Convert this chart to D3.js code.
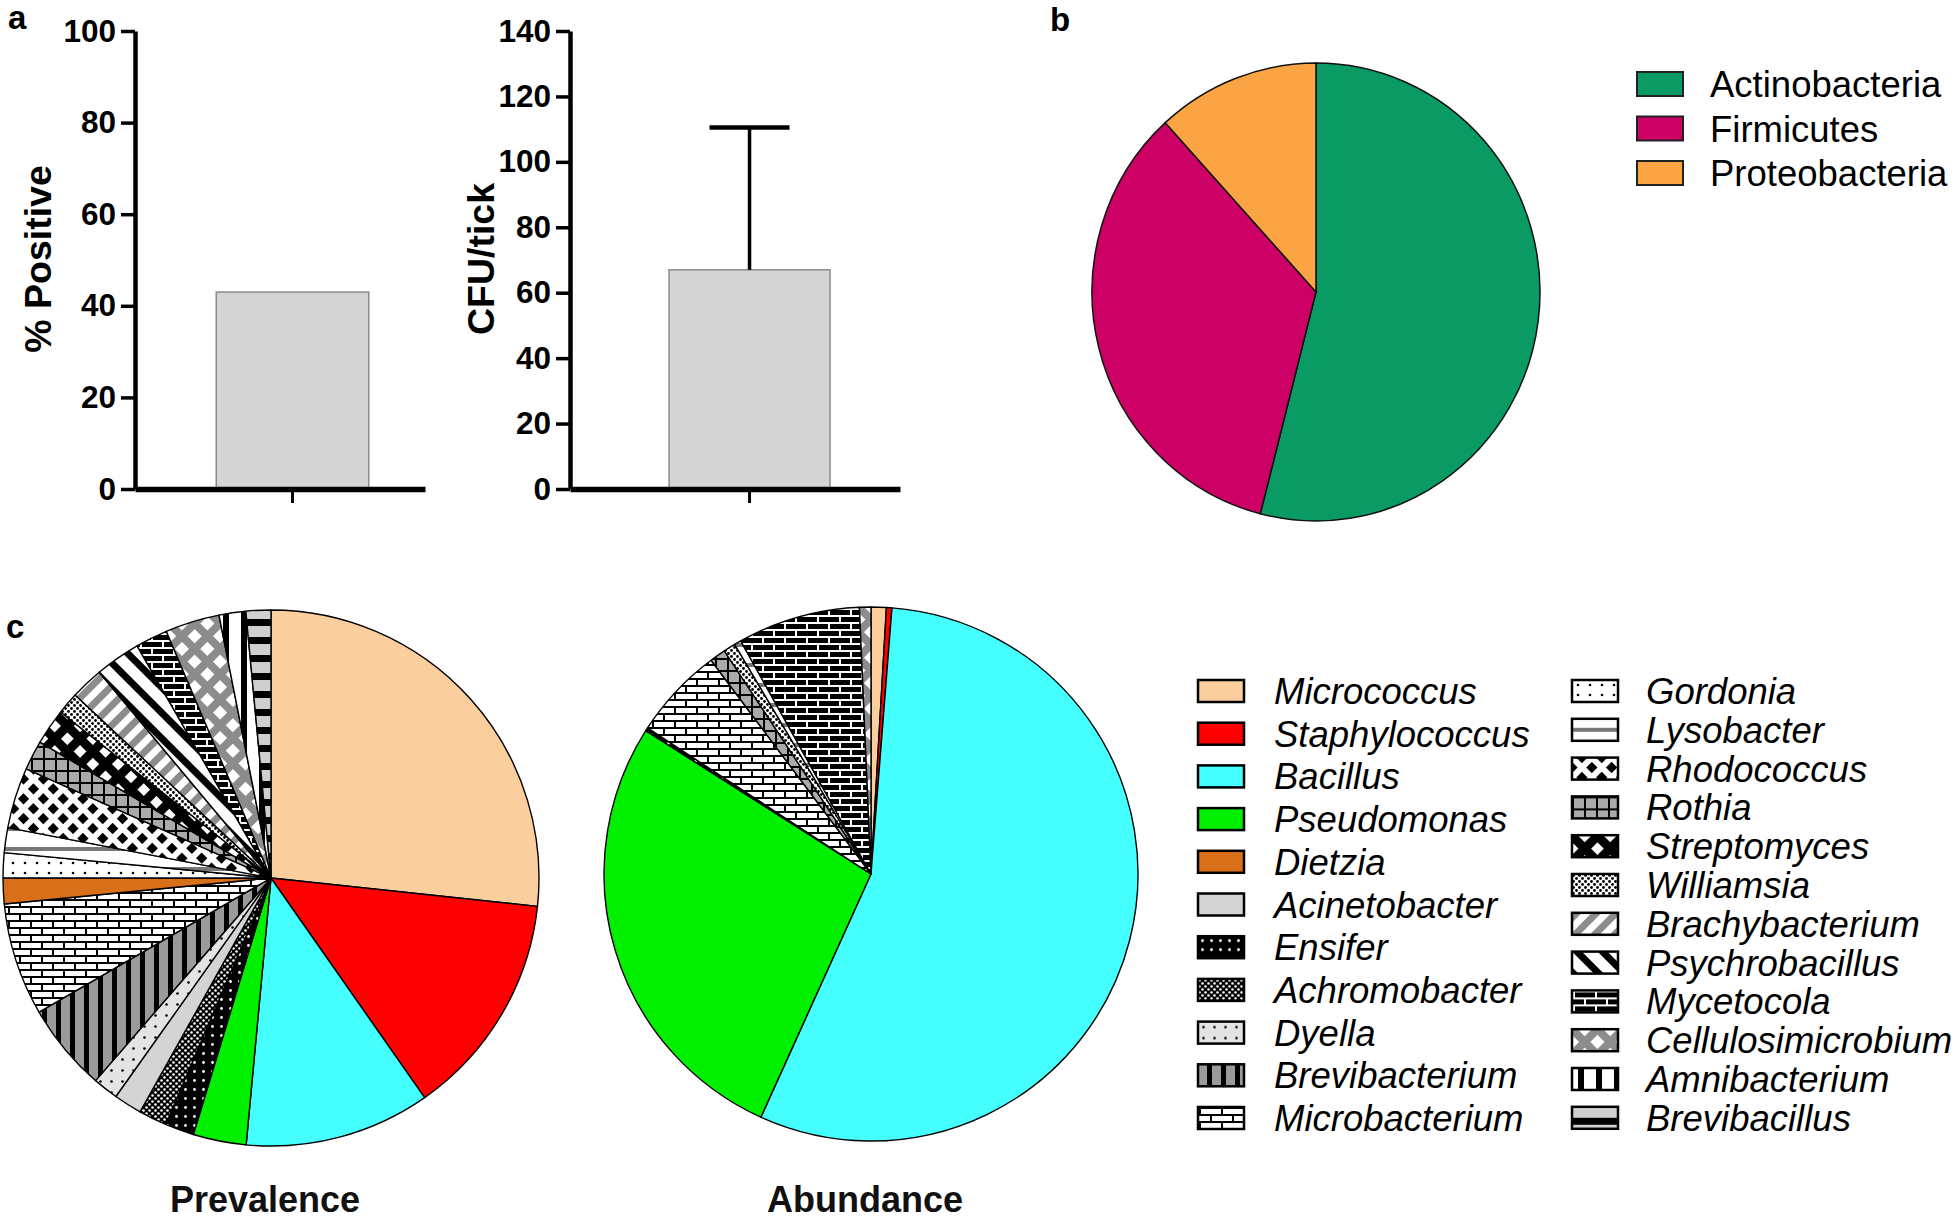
<!DOCTYPE html>
<html>
<head>
<meta charset="utf-8">
<script src="https://cdn.jsdelivr.net/npm/d3@7"></script>
<style>
body { margin: 0; background: #fff; }
svg { display: block; }
text { font-family: "Liberation Sans", Arial, sans-serif; }
</style>
</head>
<body>
<svg width="1960" height="1220"></svg>
<script>
// panel a: share of positive ticks and CFU per tick (mean, mean + SD)
const positiveTicks = [0, 20, 40, 60, 80, 100];
const positiveValue = [43];
const cfuTicks = [0, 20, 40, 60, 80, 100, 120, 140];
const cfuValue = [67];
const cfuUpper = [110.5];

// panel b: phyla
const phyla = ["Actinobacteria", "Firmicutes", "Proteobacteria"];
const phylaShare = [54, 34.25, 11.75];
const phylaColours = ["#0a9b65", "#cd0065", "#fba443"];

// panel c: genera, legend in two columns
const legendCol1 = ["Micrococcus", "Staphylococcus", "Bacillus", "Pseudomonas", "Dietzia", "Acinetobacter",
  "Ensifer", "Achromobacter", "Dyella", "Brevibacterium", "Microbacterium"];
const legendCol2 = ["Gordonia", "Lysobacter", "Rhodococcus", "Rothia", "Streptomyces", "Williamsia",
  "Brachybacterium", "Psychrobacillus", "Mycetocola", "Cellulosimicrobium", "Amnibacterium", "Brevibacillus"];

// slices in drawing order (clockwise from 12 o'clock), % of total
const prevalenceGenera = ["Micrococcus", "Staphylococcus", "Bacillus", "Pseudomonas", "Ensifer", "Achromobacter",
  "Acinetobacter", "Dyella", "Brevibacterium", "Microbacterium", "Dietzia", "Gordonia", "Lysobacter",
  "Rhodococcus", "Rothia", "Streptomyces", "Williamsia", "Brachybacterium", "Psychrobacillus", "Mycetocola",
  "Cellulosimicrobium", "Amnibacterium", "Brevibacillus"];
const prevalenceShare = [26.7, 13.6, 11.2, 3.2, 1.75, 1.7, 1.7, 1.53, 5.3, 6.8, 1.56, 1.5, 1.5,
  3.67, 1.78, 2.17, 1.33, 1.97, 2.75, 1.94, 3.28, 1.61, 1.5];

const abundanceGenera = ["Micrococcus", "Staphylococcus", "Bacillus", "Pseudomonas", "Ensifer", "Microbacterium",
  "Rothia", "Williamsia", "Lysobacter", "Mycetocola", "Cellulosimicrobium"];
const abundanceShare = [0.92, 0.33, 55.5, 27.25, 0.19, 5.56, 0.97, 0.72, 0.42, 7.42, 0.69];

const svg = d3.select("svg");
const defs = svg.append("defs");

// fill patterns
function pat(id, w, h, bg, draw, rot) {
  const p = defs.append("pattern").attr("id", id)
    .attr("patternUnits", "userSpaceOnUse").attr("width", w).attr("height", h);
  if (rot) p.attr("patternTransform", "rotate(" + rot + ")");
  p.append("rect").attr("width", w).attr("height", h).attr("fill", bg);
  draw(p);
}
const dot = (p, cx, cy, r, c) => p.append("circle").attr("cx", cx).attr("cy", cy).attr("r", r).attr("fill", c);
const box = (p, x, y, w, h, c) => p.append("rect").attr("x", x).attr("y", y).attr("width", w).attr("height", h).attr("fill", c);
const brick = (p, c) => p.append("path").attr("d", "M0,1H22M0,8H22M2,1V8M13,8V15").attr("stroke", c).attr("stroke-width", 2).attr("fill", "none");

pat("ensifer", 9, 9, "#000", p => dot(p, 4.5, 4.5, 1.4, "#fff"));
pat("achromo", 6, 6, "#000", p => { dot(p, 1.5, 1.5, 1.3, "#fff"); dot(p, 4.5, 4.5, 1.3, "#fff"); });
pat("dyella", 11, 11, "#e4e4e4", p => dot(p, 5.5, 5.5, 1.3, "#000"));
pat("brevibact", 14, 14, "#9a9a9a", p => box(p, 9, 0, 5, 14, "#000"));
pat("microbact", 22, 14, "#fff", p => brick(p, "#000"));
pat("myceto", 22, 14, "#000", p => brick(p, "#fff"));
pat("gordonia", 12, 10, "#fff", p => dot(p, 6, 5, 1.3, "#000"));
pat("lyso", 20, 20, "#fff", p => box(p, 0, 9, 20, 4, "#777"));
pat("rhodo", 14, 14, "#fff", p => box(p, 3, 3, 8, 8, "#000"), 45);
pat("rothia", 12, 12, "#aaa", p => p.append("path").attr("d", "M0,1H12M1,0V12").attr("stroke", "#000").attr("stroke-width", 2));
pat("strepto", 18, 18, "#000", p => box(p, 5, 5, 9, 9, "#fff"), 45);
pat("williamsia", 6, 6, "#fff", p => { dot(p, 1.5, 1.5, 1.4, "#000"); dot(p, 4.5, 4.5, 1.4, "#000"); });
pat("brachy", 14, 14, "#fff", p => box(p, 0, 0, 7, 14, "#8c8c8c"), 45);
pat("psychro", 18, 18, "#fff", p => box(p, 0, 0, 7, 18, "#000"), -45);
pat("cellulo", 18, 18, "#8c8c8c", p => box(p, 4, 4, 10, 10, "#fff"), 45);
pat("amni", 18, 18, "#fff", p => box(p, 6, 0, 6, 18, "#000"));
pat("brevibac", 18, 18, "#cfcfcf", p => box(p, 0, 11, 18, 7, "#000"));

const genusFill = {
  Micrococcus: "#fbce9e", Staphylococcus: "#ff0000", Bacillus: "#45ffff", Pseudomonas: "#00f000",
  Dietzia: "#d8701a", Acinetobacter: "#d4d4d4", Ensifer: "url(#ensifer)", Achromobacter: "url(#achromo)",
  Dyella: "url(#dyella)", Brevibacterium: "url(#brevibact)", Microbacterium: "url(#microbact)",
  Gordonia: "url(#gordonia)", Lysobacter: "url(#lyso)", Rhodococcus: "url(#rhodo)", Rothia: "url(#rothia)",
  Streptomyces: "url(#strepto)", Williamsia: "url(#williamsia)", Brachybacterium: "url(#brachy)",
  Psychrobacillus: "url(#psychro)", Mycetocola: "url(#myceto)", Cellulosimicrobium: "url(#cellulo)",
  Amnibacterium: "url(#amni)", Brevibacillus: "url(#brevibac)"
};

// panel letters
svg.append("text").attr("x", 8).attr("y", 29).attr("font-size", 33).attr("font-weight", "bold").text("a");
svg.append("text").attr("x", 1050).attr("y", 31).attr("font-size", 33).attr("font-weight", "bold").text("b");
svg.append("text").attr("x", 6).attr("y", 638).attr("font-size", 33).attr("font-weight", "bold").text("c");

// ---------- panel a ----------
function barPanel(o) {
  const y = d3.scaleLinear().domain([0, o.max]).range([489, 31]);
  const x = d3.scaleBand().domain(["ticks"]).range(o.xr).paddingInner(0).paddingOuter(o.po).align(o.al);
  const g = svg.append("g");

  g.selectAll(".bar").data(o.values).join("rect")
    .attr("x", x("ticks")).attr("width", x.bandwidth())
    .attr("y", d => y(d)).attr("height", d => y(0) - y(d))
    .attr("fill", "#d4d4d4").attr("stroke", "#8a8a8a").attr("stroke-width", 1.5);

  if (o.upper) {
    const cx = x("ticks") + x.bandwidth() / 2;
    g.selectAll(".err").data(o.upper).join("line")
      .attr("x1", cx).attr("x2", cx).attr("y1", y(o.values[0])).attr("y2", d => y(d))
      .attr("stroke", "#000").attr("stroke-width", 3.5);
    g.selectAll(".cap").data(o.upper).join("line")
      .attr("x1", cx - 40).attr("x2", cx + 40).attr("y1", d => y(d)).attr("y2", d => y(d))
      .attr("stroke", "#000").attr("stroke-width", 4.5);
  }

  const ya = g.append("g").attr("transform", "translate(" + o.xr[0] + ",0)")
    .call(d3.axisLeft(y).tickValues(o.ticks).tickSize(14).tickSizeOuter(0).tickPadding(5));
  ya.select(".domain").attr("stroke-width", 4.5);
  ya.selectAll(".tick line").attr("stroke-width", 3.5);
  ya.selectAll(".tick text").attr("font-size", 31.5).attr("font-weight", "bold")
    .attr("font-family", "'Liberation Sans', Arial, sans-serif").attr("fill", "#000");

  const xa = g.append("g").attr("transform", "translate(0,489)")
    .call(d3.axisBottom(x).tickSize(14).tickSizeOuter(0).tickFormat(""));
  xa.select(".domain").attr("stroke-width", 5.5);
  xa.selectAll(".tick line").attr("stroke-width", 3);

  g.append("text").attr("transform", "translate(" + o.tx + ",259) rotate(-90)")
    .attr("text-anchor", "middle").attr("dominant-baseline", "central")
    .attr("font-size", 37.5).attr("font-weight", "bold").text(o.title);
}

barPanel({ max: 100, ticks: positiveTicks, values: positiveValue, xr: [135, 425], po: 0.4508, al: 0.591,
  title: "% Positive", tx: 38 });
barPanel({ max: 140, ticks: cfuTicks, values: cfuValue, upper: cfuUpper, xr: [570, 900], po: 0.5248, al: 0.586,
  title: "CFU/tick", tx: 481 });

// ---------- panel b ----------
const phylaData = phyla.map((p, i) => ({ name: p, value: phylaShare[i], colour: phylaColours[i] }));
const pieB = d3.pie().sort(null).value(d => d.value);
const arcB = d3.arc().innerRadius(0).outerRadius(224);
svg.append("g").attr("transform", "translate(1316,292) scale(1,1.022)")
  .selectAll("path").data(pieB(phylaData)).join("path")
  .attr("d", arcB).attr("fill", d => d.data.colour)
  .attr("stroke", "#111").attr("stroke-width", 1.5);

const legB = svg.append("g").selectAll("g").data(phylaData).join("g")
  .attr("transform", (d, i) => "translate(1637," + (72 + i * 44.5) + ")");
legB.append("rect").attr("width", 46).attr("height", 24).attr("fill", d => d.colour)
  .attr("stroke", "#222").attr("stroke-width", 2);
legB.append("text").attr("x", 73).attr("y", 25).attr("font-size", 36.5).text(d => d.name);

// ---------- panel c ----------
function genusPie(names, shares, cx, cy, r, label) {
  const data = names.map((n, i) => ({ name: n, value: shares[i] }));
  const pie = d3.pie().sort(null).value(d => d.value);
  const arc = d3.arc().innerRadius(0).outerRadius(r);
  const g = svg.append("g").attr("transform", "translate(" + cx + "," + cy + ")");
  g.selectAll("path").data(pie(data)).join("path")
    .attr("d", arc).attr("fill", d => genusFill[d.data.name])
    .attr("stroke", "#000").attr("stroke-width", 1.4).attr("stroke-linejoin", "round");
  svg.append("text").attr("x", cx - 6).attr("y", 1212).attr("text-anchor", "middle")
    .attr("font-family", "'Open Sans', 'Noto Sans', sans-serif")
    .attr("font-size", 36).attr("font-weight", "bold").attr("fill", "#111").text(label);
}
genusPie(prevalenceGenera, prevalenceShare, 271, 878, 268, "Prevalence");
genusPie(abundanceGenera, abundanceShare, 871, 874, 267, "Abundance");

function genusLegend(names, x0, y0, step, tx) {
  const rows = svg.append("g").selectAll("g").data(names).join("g")
    .attr("transform", (d, i) => "translate(" + x0 + "," + (y0 + i * step) + ")");
  rows.append("rect").attr("width", 46).attr("height", 22).attr("fill", d => genusFill[d])
    .attr("stroke", "#000").attr("stroke-width", 2.5);
  rows.append("text").attr("x", tx).attr("y", 24).attr("font-size", 36.5)
    .attr("font-style", "italic").text(d => d);
}
genusLegend(legendCol1, 1198, 680, 42.7, 76);
genusLegend(legendCol2, 1572, 680, 38.8, 74);
</script>
</body>
</html>
